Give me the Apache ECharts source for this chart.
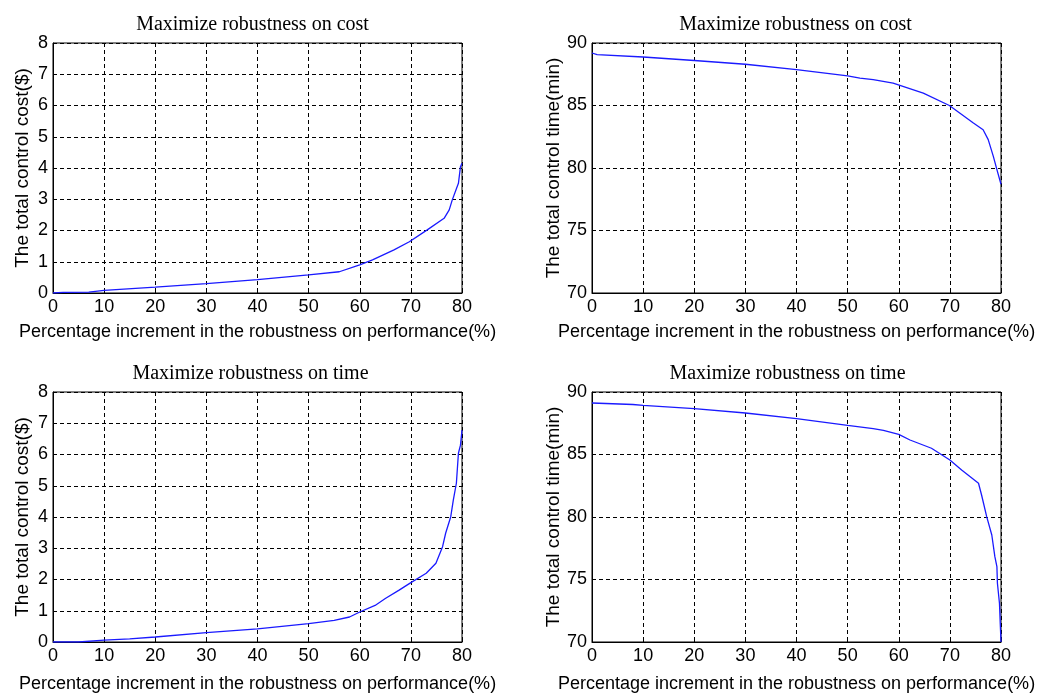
<!DOCTYPE html>
<html lang="en">
<head>
  <meta charset="UTF-8">
  <title>Robustness</title>
  <script src="https://cdn.jsdelivr.net/npm/echarts@6/dist/echarts.min.js"></script>
  <style>
    html, body { margin: 0; padding: 0; background: #fff; }
    #chart { width: 1041px; height: 695px; }
  </style>
</head>
<body>
<div id="chart"></div>
<script>
  // panel titles and axis names
  var titles = ['Maximize robustness on cost', 'Maximize robustness on cost',
                'Maximize robustness on time', 'Maximize robustness on time'];
  var xName = 'Percentage increment in the robustness on performance(%)';
  var costName = 'The total control cost($)';
  var timeName = 'The total control time(min)';

  // top left: cost, maximize robustness on cost
  var pctA  = [0, 2, 7, 10, 20, 30, 40, 50, 56, 60, 62.5, 66.7, 69.7, 73.2, 76.5, 77.5, 78.1, 79.3, 79.7, 80];
  var costA = [0, 0.02, 0.03, 0.085, 0.19, 0.3, 0.43, 0.58, 0.68, 0.9, 1.06, 1.38, 1.64, 2.02, 2.39, 2.66, 2.98, 3.51, 4.04, 4.15];

  // top right: time, maximize robustness on cost
  var pctB  = [0, 1, 10, 20, 30, 40, 50, 52.4, 55, 58.9, 64.8, 69.9, 74.6, 76.5, 77.5, 78.5, 79.2, 80];
  var timeB = [89.2, 89.07, 88.88, 88.6, 88.3, 87.87, 87.37, 87.19, 87.07, 86.79, 85.99, 85.0, 83.6, 83.06, 82.27, 80.93, 79.87, 78.7];

  // bottom left: cost, maximize robustness on time
  var pctC  = [0, 5, 5.2, 10, 15, 20, 30, 40, 50, 55, 58, 60, 63, 65, 67.7, 70, 73, 74.9, 76.2, 76.8, 77.8, 78.3, 78.9, 79.3, 79.7, 80];
  var costC = [0, 0, 0.03, 0.06, 0.1, 0.16, 0.3, 0.42, 0.59, 0.69, 0.8, 0.96, 1.17, 1.39, 1.66, 1.9, 2.2, 2.52, 3.05, 3.48, 4.01, 4.54, 5.08, 6.04, 6.3, 6.78];

  // bottom right: time, maximize robustness on time
  var pctD  = [0, 8, 10, 20, 30, 40, 50, 55, 57, 60, 62.2, 66.4, 70, 72.3, 75.6, 76.2, 77.2, 78.2, 78.8, 79.2, 79.3, 79.7, 79.85, 80];
  var timeD = [89.12, 89.0, 88.93, 88.67, 88.32, 87.87, 87.33, 87.07, 86.93, 86.61, 86.16, 85.5, 84.56, 83.76, 82.7, 81.76, 80.03, 78.56, 76.83, 76.03, 74.7, 73.1, 71.5, 70];

  var panels = [
    { x: pctA, y: costA, yName: costName, yMin: 0, yMax: 8, yStep: 1, left: 53, top: 43, tShift: -10 },
    { x: pctB, y: timeB, yName: timeName, yMin: 70, yMax: 90, yStep: 5, left: 592, top: 43, tShift: -6 },
    { x: pctC, y: costC, yName: costName, yMin: 0, yMax: 8, yStep: 1, left: 53, top: 392, tShift: -12 },
    { x: pctD, y: timeD, yName: timeName, yMin: 70, yMax: 90, yStep: 5, left: 592, top: 392, tShift: -14 }
  ];
  var W = 409, H = 250;

  var sans = 'Liberation Sans, Arial, sans-serif';
  var serif = 'Liberation Serif, Times New Roman, serif';
  var dashed = { color: '#000', width: 1, type: [4, 3] };

  var grids = [], xAxes = [], yAxes = [], series = [], title = [];
  panels.forEach(function(p, i) {
    grids.push({ left: p.left, top: p.top, width: W, height: H, show: true,
                 borderColor: '#000', borderWidth: 1, backgroundColor: '#fff' });
    title.push({ text: titles[i], left: p.left + W / 2 + p.tShift, top: p.top - 33, textAlign: 'center',
                 textStyle: { fontFamily: serif, fontWeight: 'normal', fontSize: 20, color: '#000' } });
    xAxes.push({
      gridIndex: i, type: 'value', min: 0, max: 80, interval: 10,
      name: xName, nameLocation: 'middle', nameGap: i < 2 ? 30 : 33,
      nameTextStyle: { fontFamily: sans, fontSize: 18, color: '#000' },
      axisLine: { lineStyle: { color: '#000' } },
      axisTick: { inside: true, length: 4, lineStyle: { color: '#000' } },
      axisLabel: { fontFamily: sans, fontSize: 18, color: '#000', margin: 5 },
      splitLine: { show: true, lineStyle: dashed }
    });
    yAxes.push({
      gridIndex: i, type: 'value', min: p.yMin, max: p.yMax, interval: p.yStep,
      name: p.yName, nameLocation: 'middle', nameGap: 21,
      nameTextStyle: { fontFamily: sans, fontSize: 19, color: '#000' },
      axisLine: { lineStyle: { color: '#000' } },
      axisTick: { inside: true, length: 4, lineStyle: { color: '#000' } },
      axisLabel: { fontFamily: sans, fontSize: 18, color: '#000', margin: 5 },
      splitLine: { show: true, lineStyle: dashed }
    });
    series.push({
      type: 'line', xAxisIndex: i, yAxisIndex: i,
      data: p.x.map(function(v, k) { return [v, p.y[k]]; }),
      showSymbol: false, smooth: false,
      lineStyle: { color: '#1a1aff', width: 1.3 }
    });
  });

  var myChart = echarts.init(document.getElementById('chart'));
  myChart.setOption({
    animation: false,
    backgroundColor: '#fff',
    title: title,
    grid: grids,
    xAxis: xAxes,
    yAxis: yAxes,
    series: series
  });
</script>
</body>
</html>
